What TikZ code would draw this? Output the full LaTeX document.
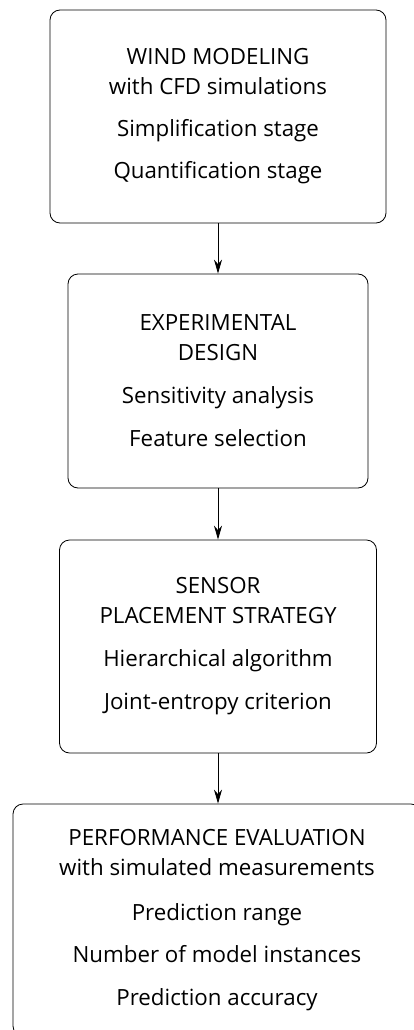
\documentclass[tikz,border=0pt]{standalone}
\usepackage{fontspec}
\setmainfont{Open Sans}
\usetikzlibrary{arrows.meta}

\tikzset{
  stage/.style={draw, line width=0.8pt, rounded corners=10pt, align=center, inner sep=0pt,
    font=\fontsize{22.3}{30}\selectfont},
  flow/.style={-{Stealth[length=14pt,width=8pt]}, line width=0.8pt}
}

\begin{document}
\begin{tikzpicture}[x=1pt,y=-1pt]

\useasboundingbox (0,0) rectangle (414,1030);

\node [stage, minimum width=336pt, minimum height=213pt] (wind) at (218,116.5)
  {WIND MODELING\\with CFD simulations\\[12pt]Simplification stage\\[12pt]Quantification stage};

\node [stage, minimum width=300pt, minimum height=214pt] (design) at (218,381)
  {EXPERIMENTAL\\DESIGN\\[13pt]Sensitivity analysis\\[13pt]Feature selection};

\node [stage, minimum width=317pt, minimum height=213pt] (placement) at (218,646.5)
  {SENSOR\\PLACEMENT STRATEGY\\[13pt]Hierarchical algorithm\\[13pt]Joint-entropy criterion};

\node [stage, minimum width=408pt, minimum height=232pt] (evaluation) at (217,920)
  {PERFORMANCE EVALUATION\\with simulated measurements\\[15pt]Prediction range\\[12pt]Number of model instances\\[13pt]Prediction accuracy};

%arrows
\draw [flow] (wind.south) -- (design.north);
\draw [flow] (design.south) -- (placement.north);
\draw [flow] (placement.south) -- (placement.south |- evaluation.north);

\end{tikzpicture}
\end{document}
